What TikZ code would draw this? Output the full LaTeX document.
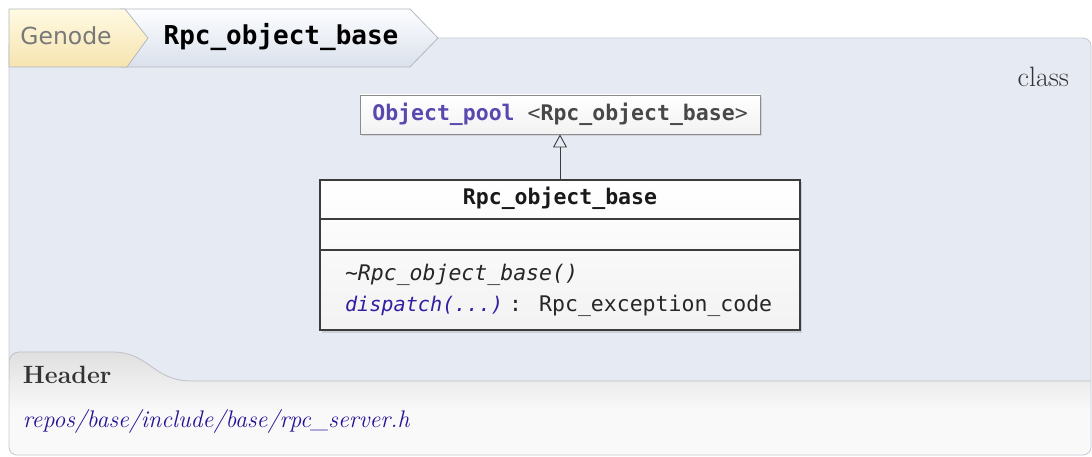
\documentclass[tikz,border=0pt]{standalone}
\usepackage{fontspec}
\newfontfamily\djsans{DejaVu Sans}
\newfontfamily\djmono{DejaVu Sans Mono}
\usetikzlibrary{arrows.meta,shadows}
\definecolor{panelfill}{RGB}{230,234,242}
\definecolor{panelborder}{RGB}{200,204,212}
\definecolor{hdrtop}{RGB}{224,224,224}
\definecolor{hdrbot}{RGB}{249,249,249}
\definecolor{hdrline}{RGB}{190,192,196}
\definecolor{tabborder}{RGB}{180,184,190}
\definecolor{gentop}{RGB}{255,250,226}
\definecolor{genbot}{RGB}{246,228,176}
\definecolor{rpctop}{RGB}{252,253,255}
\definecolor{rpcbot}{RGB}{218,225,236}
\definecolor{darktext}{RGB}{51,51,51}
\definecolor{graytext}{RGB}{120,120,120}
\definecolor{poolpurple}{RGB}{88,72,176}
\definecolor{poolgray}{RGB}{72,72,72}
\definecolor{dispblue}{RGB}{50,30,160}
\definecolor{pathblue}{RGB}{36,18,150}
\definecolor{boxline}{RGB}{60,60,60}
\tikzset{
  umlbox/.style={draw=boxline, line width=1.1pt, top color=white, bottom color=black!5,
    drop shadow={shadow xshift=2pt, shadow yshift=-2.5pt, opacity=.25}, inner sep=0pt},
  poolbox/.style={draw=black!45, line width=0.9pt, top color=white, bottom color=black!5,
    drop shadow={shadow xshift=2pt, shadow yshift=-2.5pt, opacity=.22}, inner sep=0pt},
  txt/.style={inner sep=0pt, outer sep=0pt},
  mono/.style={txt, font=\djmono\fontsize{21.5}{25}\selectfont},
}
\begin{document}
\begin{tikzpicture}[x=1pt,y=-1pt]
\useasboundingbox (0,0) rectangle (1092,457);
\fill[white] (0,0) rectangle (1092,457);
% main panel
\fill[panelfill, rounded corners=8] (9,38) rectangle (1091,455);
% header area
\begin{scope}
\clip[rounded corners=8] (9,38) rectangle (1091,455);
\shade[top color=hdrtop, bottom color=hdrbot, middle color=hdrbot]
  (9,470) [rounded corners=10] -- (9,352) [sharp corners] -- (112,352)
  .. controls (150,352) and (152,381) .. (192,381) -- (1100,381) -- (1100,470) -- cycle;
\draw[hdrline, line width=0.8pt]
  (9,380) [rounded corners=10] -- (9,352) [sharp corners] -- (112,352)
  .. controls (150,352) and (152,381) .. (192,381) -- (1100,381);
\end{scope}
\draw[panelborder, line width=0.9pt, rounded corners=8] (9,38) rectangle (1091,455);
% breadcrumb tabs
\shade[top color=rpctop, bottom color=rpcbot, draw=tabborder, line width=0.8pt]
  (120,9) -- (410,9) -- (438,38) -- (410,67) -- (120,67) -- cycle;
\shade[top color=gentop, bottom color=genbot, draw=tabborder, line width=0.8pt]
  (9,9) -- (125,9) -- (148,38) -- (127,67) -- (9,67) -- cycle;
\node[txt, anchor=base, text=graytext, font=\djsans\fontsize{23.5}{28}\selectfont] (gen) at (66,45) {Genode};
\node[txt, anchor=base, text=black, font=\djmono\bfseries\fontsize{26}{30}\selectfont] (crumb) at (281,45) {Rpc\_object\_base};
% class label
\node[txt, anchor=base east, text=darktext, font=\fontsize{28}{32}\selectfont] (cls-kind) at (1069,87) {class};
% Object_pool box
\node[poolbox, minimum width=400pt, minimum height=39pt] (pool) at (560,114.5) {};
\node[mono, anchor=base] (pooltxt) at (560,121) {\textcolor{poolpurple}{\bfseries Object\_pool} \textcolor{poolgray}{<\textbf{Rpc\_object\_base}>}};
% class box
\node[umlbox, minimum width=480pt, minimum height=150pt] (cls) at (560,255) {};
\coordinate (sep1l) at (320,219); \coordinate (sep1r) at (800,219);
\coordinate (sep2l) at (320,250); \coordinate (sep2r) at (800,250);
\draw[boxline, line width=1.1pt] (sep1l) -- (sep1r);
\draw[boxline, line width=1.1pt] (sep2l) -- (sep2r);
\node[mono, anchor=base, font=\djmono\bfseries\fontsize{21.5}{25}\selectfont, text=black!90] (clstitle) at (560,205) {Rpc\_object\_base};
\node[mono, anchor=base west, text=black!85] (m1) at (345,280) {\itshape \textasciitilde Rpc\_object\_base()};
\node[mono, anchor=base west, text=dispblue, font=\djmono\itshape\fontsize{20.2}{25}\selectfont] (m2) at (345,311) {dispatch(...)};
\node[mono, anchor=base west, text=black!85] (m2type) at (509,311) {: Rpc\_exception\_code};
% inheritance arrow
\draw[boxline, line width=0.9pt, -{Triangle[open, length=13pt, width=14pt, line width=0.9pt]}] (cls.north) -- (pool.south);
% header
\node[txt, anchor=base west, text=darktext, font=\bfseries\fontsize{25}{30}\selectfont] (hdr) at (23,383) {Header};
\node[txt, anchor=base west, text=pathblue, font=\itshape\fontsize{24}{28}\selectfont] (hdrpath) at (23,427) {repos/base/include/base/rpc\_server.h};
\end{tikzpicture}
\end{document}
